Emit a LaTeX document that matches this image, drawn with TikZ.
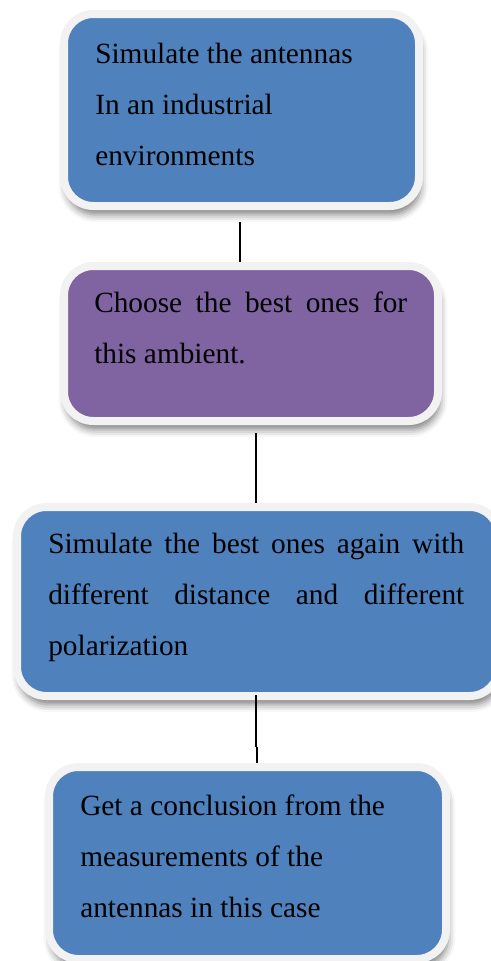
\documentclass[tikz,border=0pt]{standalone}
\usepackage{fontspec}
\setmainfont{Liberation Serif}
\usetikzlibrary{shadows.blur}

\definecolor{stepblue}{HTML}{4F81BD}
\definecolor{steppurple}{HTML}{8064A2}
\definecolor{steprim}{HTML}{F2F2F2}

\tikzset{
  stepbox/.style={rounded corners=22pt, draw=steprim, line width=6pt, inner sep=0pt,
    blur shadow={shadow xshift=1.5pt, shadow yshift=-6.5pt, shadow blur radius=5.5pt, shadow opacity=50}},
  steptext/.style={anchor=base west, inner sep=0pt, font=\fontsize{22}{38.5}\selectfont},
  link/.style={draw=black, line width=0.8pt}
}

\begin{document}
\begin{tikzpicture}[x=0.75pt, y=-0.75pt]
  \useasboundingbox (0,0) rectangle (491,961);

  % step boxes
  \node[stepbox, fill=stepblue, minimum width=266.25pt, minimum height=144pt] (b1) at (241.5,110) {};
  \node[stepbox, fill=steppurple, minimum width=280.5pt, minimum height=116.25pt] (b2) at (251,343.5) {};
  \node[stepbox, fill=stepblue, minimum width=361.5pt, minimum height=141.75pt] (b3) at (258,601.5) {};
  \node[stepbox, fill=stepblue, minimum width=297.75pt, minimum height=144pt] (b4) at (247.5,863) {};

  % step texts
  \node[steptext] (t1) at (95,63) {\parbox[t]{250pt}{Simulate the antennas\\In an industrial\\environments}};
  \node[steptext] (t2) at (94,312) {\parbox[t]{234.75pt}{\makebox[234.75pt][s]{Choose the best ones for}\\this ambient.}};
  \node[steptext] (t3) at (48,553) {\parbox[t]{312pt}{\makebox[312pt][s]{Simulate the best ones again with}\\\makebox[312pt][s]{different distance and different}\\polarization}};
  \node[steptext] (t4) at (80,815) {\parbox[t]{260pt}{Get a conclusion from the\\measurements of the\\antennas in this case}};

  % connectors
  \draw[link] ([shift={(-1.5,12)}]b1.south) -- ([shift={(-1.5,0)}]b1.south |- b2.north);
  \draw[link] ([shift={(5,8)}]b2.south) -- ([shift={(5,0)}]b2.south |- b3.north);
  \draw[link] ([shift={(-2,-5)}]b3.south) -- ++(0,52) ++(1,0) -- ([shift={(-1,0)}]b3.south |- b4.north);
\end{tikzpicture}
\end{document}
